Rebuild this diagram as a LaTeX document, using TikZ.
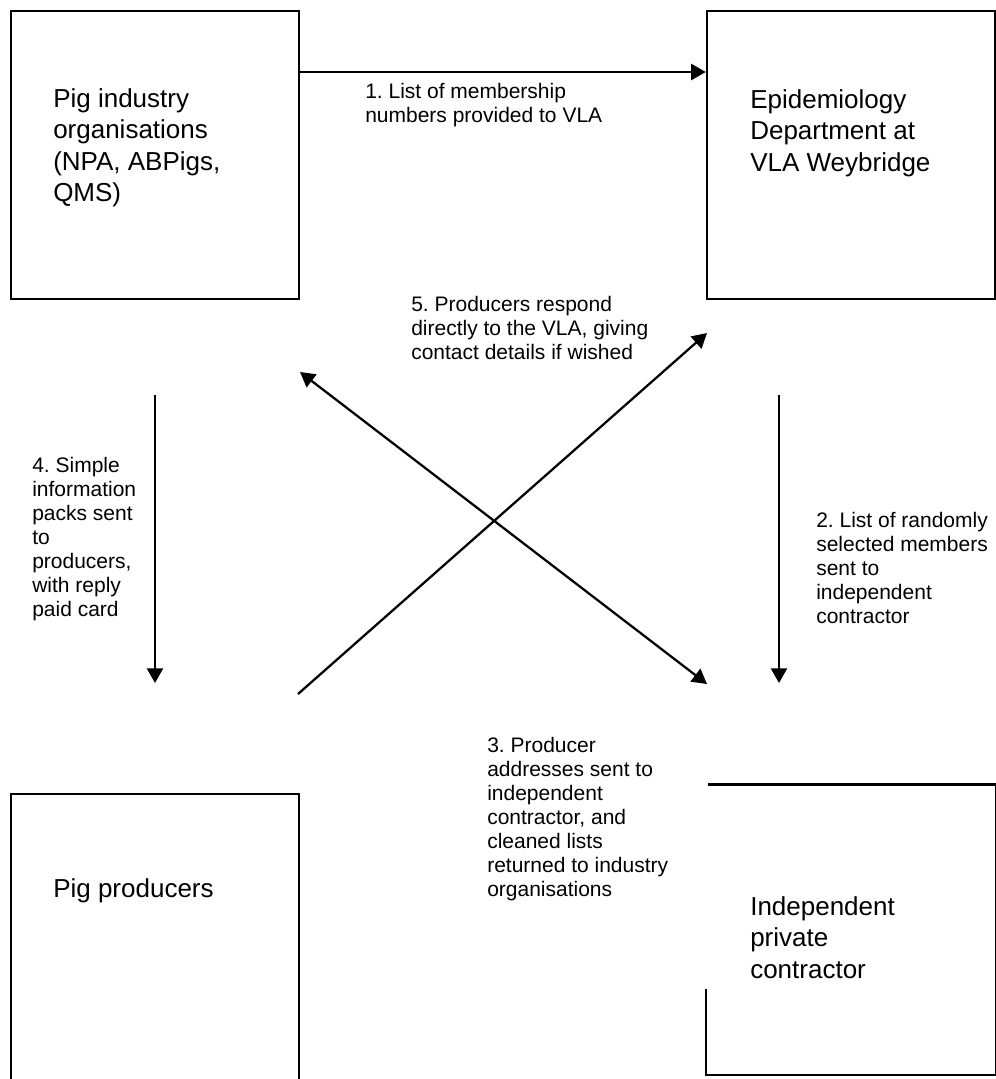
\documentclass[tikz,border=0pt]{standalone}
\usepackage{fontspec}
\setmainfont{Liberation Sans}
\usetikzlibrary{arrows.meta}
\frenchspacing

\begin{document}
\begin{tikzpicture}[x=0.75pt,y=-0.75pt,
box/.style={draw,line width=1.7pt,minimum width=216pt,minimum height=216pt,inner sep=0pt},
boxtext/.style={anchor=north west,inner sep=0pt,align=left,font=\fontsize{19.5}{23.6}\selectfont},
lbl/.style={anchor=north west,inner sep=0pt,align=left,font=\fontsize{15.75}{18}\selectfont},
arr/.style={line width=1.7pt,-{Triangle[length=11pt,width=12pt]}},
dblarr/.style={line width=1.7pt,{Triangle[length=11pt,width=12pt]}-{Triangle[length=11pt,width=12pt]}}]
\clip (0,0) rectangle (996,1079);

\node[box](ind) at (155,155) {};
\node[box](epi) at (851,155) {};
\node[box](prod) at (155,938) {};
\node[box,draw=none](con) at (851,929.5) {};
\draw[line width=1.7pt] ([xshift=1.5pt]con.north west) -- (con.north east) -- (con.south east) -- (con.south west) -- ++(0,-86);

\node[boxtext](indt) at (53,88) {Pig industry\\organisations\\(NPA, ABPigs,\\QMS)};
\node[boxtext](epit) at (750,89) {Epidemiology\\Department at\\VLA Weybridge};
\node[boxtext](prodt) at (53,878) {Pig producers};
\node[boxtext](cont) at (750,896) {Independent\\private\\contractor};

\node[lbl](s1) at (365,83) {1. List of membership\\numbers provided to VLA};
\node[lbl](s2) at (816,512) {2. List of randomly\\selected members\\sent to\\independent\\contractor};
\node[lbl](s3) at (487,737) {3. Producer\\addresses sent to\\independent\\contractor, and\\cleaned lists\\returned to industry\\organisations};
\node[lbl](s4) at (32,457) {4. Simple\\information\\packs sent\\to\\producers,\\with reply\\paid card};
\node[lbl](s5) at (411,296) {5. Producers respond\\directly to the VLA, giving\\contact details if wished};

\coordinate (a2s) at (779,395);
\coordinate (a2e) at (779,683);
\coordinate (a4s) at (155,395);
\coordinate (a4e) at (155,683);
\coordinate (a5s) at (298,694);
\coordinate (a5e) at (707,333);
\coordinate (a3s) at (300,372);
\coordinate (a3e) at (707,684);

\draw[arr] (ind.east |- 0,72) -- (epi.west |- 0,72);
\draw[arr] (a2s) -- (a2e);
\draw[arr] (a4s) -- (a4e);
\draw[arr] (a5s) -- (a5e);
\draw[dblarr] (a3s) -- (a3e);

\end{tikzpicture}
\end{document}
